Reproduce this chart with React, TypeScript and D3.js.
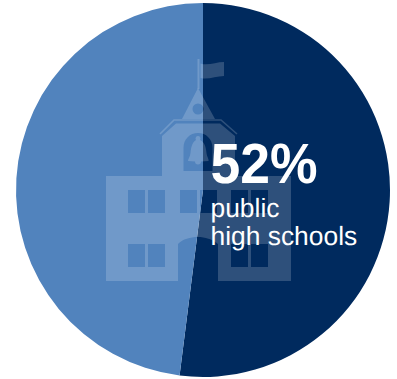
import React from "react";
import * as d3 from "d3";

const categories = ["public high schools", "other"];
const shares = [52, 48];
const colors = ["#002A5E", "#5183BD"];
const headline = "52%";
const captionLines = ["public", "high schools"];

const W = 397;
const H = 379;
const CX = 203;
const CY = 190;
const R = 187;

// Rectangular cut-outs for the school's windows: [x, y, width, height]
const windows: number[][] = [
  [128, 190, 17, 23], [148, 190, 17, 23],
  [180, 190, 17, 23], [200, 190, 17, 23],
  [231, 190, 17, 23], [251, 190, 17, 23],
  [128, 244, 17, 23], [148, 244, 17, 23],
  [231, 244, 17, 23], [251, 244, 17, 23],
];

function rectPath(p: d3.Path, [x, y, w, h]: number[]) {
  p.rect(x, y, w, h);
}

// School silhouette, with windows, bell arch and door left open by the even-odd fill
function schoolBody(): string {
  const p = d3.path();
  p.moveTo(106, 176);
  p.lineTo(162, 176);
  p.lineTo(162, 136);
  p.lineTo(176, 123.5);
  p.lineTo(220, 123.5);
  p.lineTo(235, 136);
  p.lineTo(235, 176);
  p.lineTo(291, 176);
  p.lineTo(291, 281);
  p.lineTo(218, 281);
  p.lineTo(218, 244);
  p.bezierCurveTo(212, 239, 205, 237, 198, 237);
  p.bezierCurveTo(190, 237, 183, 239, 178, 244);
  p.lineTo(178, 281);
  p.lineTo(106, 281);
  p.closePath();
  windows.forEach((w) => rectPath(p, w));
  // bell arch
  p.moveTo(183.5, 171);
  p.lineTo(183.5, 148);
  p.bezierCurveTo(183.5, 139, 190, 133, 198, 133);
  p.bezierCurveTo(206, 133, 212.5, 139, 212.5, 148);
  p.lineTo(212.5, 171);
  p.closePath();
  return p.toString();
}

function schoolSteeple(): string {
  const p = d3.path();
  p.moveTo(198, 88);
  p.lineTo(215, 119);
  p.lineTo(182, 119);
  p.closePath();
  p.moveTo(203.5, 109);
  p.arc(198, 109, 5.5, 0, Math.PI * 2);
  p.closePath();
  return p.toString();
}

const roofLine = "M160,134 L174,120 L221,120 L237,134";
const flag = "M200.5,63.5 C208,66 216,62 224,62 L224,76 C216,76 208,80 200.5,78 Z";
const bell =
  "M198,136 a2.5,2.5 0 0 1 2,4 C205,142 206,148 206.5,153 C207,157 209,159 208.5,161 L201,161.5 a3,3 0 0 1 -6,0 L188,161 C188,159 190,157 190.5,153 C191,148 192,142 196,140 a2.5,2.5 0 0 1 2,-4 Z";

export default function App() {
  const pie = d3.pie<number>().sort(null).value((d) => d);
  const arc = d3.arc<d3.PieArcDatum<number>>().innerRadius(0).outerRadius(R);
  const slices = pie(shares);
  const fill = "#fff";
  const op = 0.18;

  return (
    <svg
      width={W}
      height={H}
      viewBox={`0 0 ${W} ${H}`}
      style={{ position: "absolute", left: 0, top: 0, background: "#fff" }}
    >
      <g transform={`translate(${CX},${CY})`}>
        {slices.map((s, i) => (
          <path key={categories[i]} d={arc(s) ?? ""} fill={colors[i]} />
        ))}
      </g>
      <g fill={fill} fillOpacity={op}>
        <path d={schoolBody()} fillRule="evenodd" />
        <path d={schoolSteeple()} fillRule="evenodd" />
        <path d={bell} />
        <rect x={197.5} y={59} width={2} height={30} />
        <path d={flag} />
      </g>
      <path d={roofLine} fill="none" stroke={fill} strokeOpacity={op} strokeWidth={1.6} />
      <g fontFamily="'Liberation Sans', Arial, sans-serif" fill="#fff" textRendering="geometricPrecision">
        <text transform="translate(210.5,183) scale(1,1.06)" fontSize={53.5} fontWeight={700}>{headline}</text>
        {captionLines.map((line, i) => (
          <text key={line} x={210.5} y={217 + i * 28} fontSize={26.4}>{line}</text>
        ))}
      </g>
    </svg>
  );
}
